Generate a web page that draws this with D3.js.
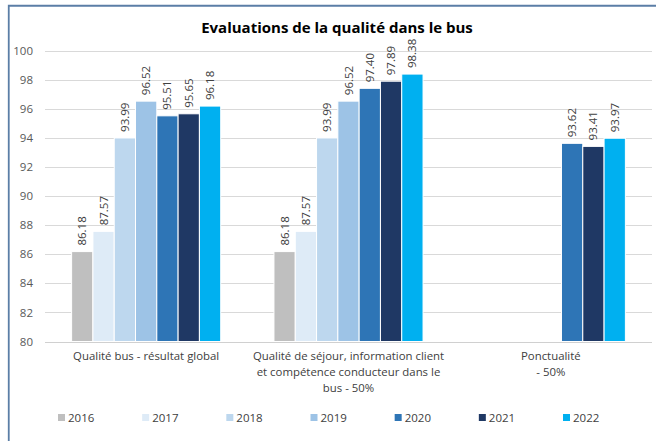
<!DOCTYPE html>
<html><head><meta charset="utf-8">
<script src="https://cdn.jsdelivr.net/npm/d3@7"></script>
<style>body{margin:0;background:#fff;}svg{display:block;font-family:Calibri,Carlito,"Liberation Sans",Arial,sans-serif;}</style>
</head><body><svg id="c" width="656" height="441"></svg>
<script>
const categories = [
  ["Qualité bus - résultat global"],
  ["Qualité de séjour, information client","et compétence conducteur dans le","bus - 50%"],
  ["Ponctualité","- 50%"]
];
const years = ["2016","2017","2018","2019","2020","2021","2022"];
const s2016 = [86.18, 86.18, null];
const s2017 = [87.57, 87.57, null];
const s2018 = [93.99, 93.99, null];
const s2019 = [96.52, 96.52, null];
const s2020 = [95.51, 97.40, 93.62];
const s2021 = [95.65, 97.89, 93.41];
const s2022 = [96.18, 98.38, 93.97];
const colors = ["#bfbfbf","#deebf7","#bdd7ee","#9dc3e6","#2e75b6","#1f3864","#00b0f0"];
const yTicks = [80,82,84,86,88,90,92,94,96,98,100];
const title = "Evaluations de la qualité dans le bus";

const FONT = "'Open Sans',sans-serif";
const series = [s2016,s2017,s2018,s2019,s2020,s2021,s2022];
const svg = d3.select("#c");
svg.append("rect").attr("x",0).attr("y",0).attr("width",656).attr("height",441).attr("fill","#fff");
svg.append("path").attr("d","M8.75,441 V5.75 H656").attr("fill","none").attr("stroke","#5b7ea6").attr("stroke-width",1.8);

const x0 = d3.scaleBand().domain(d3.range(3)).range([45,652]).paddingInner(0).paddingOuter(0);
const x1 = d3.scaleBand().domain(years).range([0,x0.bandwidth()]).paddingOuter(1.25).paddingInner(0);
const y = d3.scaleLinear().domain([80,100]).range([341.5,50.5]);

const g = svg.append("g");
g.selectAll("line.grid").data(yTicks).join("line")
  .attr("x1",45).attr("x2",652).attr("y1",d=>Math.round(y(d))+0.5).attr("y2",d=>Math.round(y(d))+0.5)
  .attr("stroke",d=>d===80?"#d0d0d0":"#d9d9d9").attr("stroke-width",1);
const yAxis = d3.axisLeft(y).tickValues(yTicks).tickSize(0).tickPadding(0);
const ya = svg.append("g").attr("transform","translate(33,0)").call(yAxis);
ya.select(".domain").remove();
ya.selectAll("text").attr("font-size",11.5).attr("fill","#595959").attr("font-family",FONT);

const groups = g.selectAll("g.grp").data(categories).join("g").attr("transform",(d,i)=>`translate(${x0(i)},0)`);
groups.each(function(cat,ci){
  const gg = d3.select(this);
  years.forEach((yr,si)=>{
    const v = series[si][ci];
    if(v==null) return;
    gg.append("rect").attr("x",x1(yr)).attr("width",x1.bandwidth()).attr("y",y(v)).attr("height",y(80)-y(v))
      .attr("fill",colors[si]).attr("stroke","#fff").attr("stroke-width",1);
    const cx = x1(yr)+x1.bandwidth()/2;
    gg.append("text").attr("transform",`translate(${cx+4},${y(v)-6}) rotate(-90)`)
      .attr("font-size",11.5).attr("fill","#404040").attr("text-anchor","start")
      .attr("font-family",FONT)
      .text(v.toFixed(2));
  });
  cat.forEach((line,li)=>{
    gg.append("text").attr("x",x0.bandwidth()/2).attr("y",360+li*16).attr("text-anchor","middle")
      .attr("font-size",11.4).attr("fill","#404040").attr("font-family",FONT).text(line);
  });
});

svg.append("text").attr("x",337).attr("y",33).attr("text-anchor","middle").attr("font-size",15).attr("font-weight","bold")
  .attr("fill","#000").attr("font-family",FONT).text(title);

const legX = d3.scalePoint().domain(years).range([58,563]);
const leg = svg.selectAll("g.leg").data(years).join("g").attr("transform",d=>`translate(${legX(d)},0)`);
leg.append("rect").attr("x",0).attr("y",414).attr("width",7).attr("height",7).attr("fill",(d,i)=>colors[i]);
leg.append("text").attr("x",10).attr("y",422).attr("font-size",11.5).attr("fill","#404040")
  .attr("font-family",FONT).text(d=>d);
</script></body></html>
